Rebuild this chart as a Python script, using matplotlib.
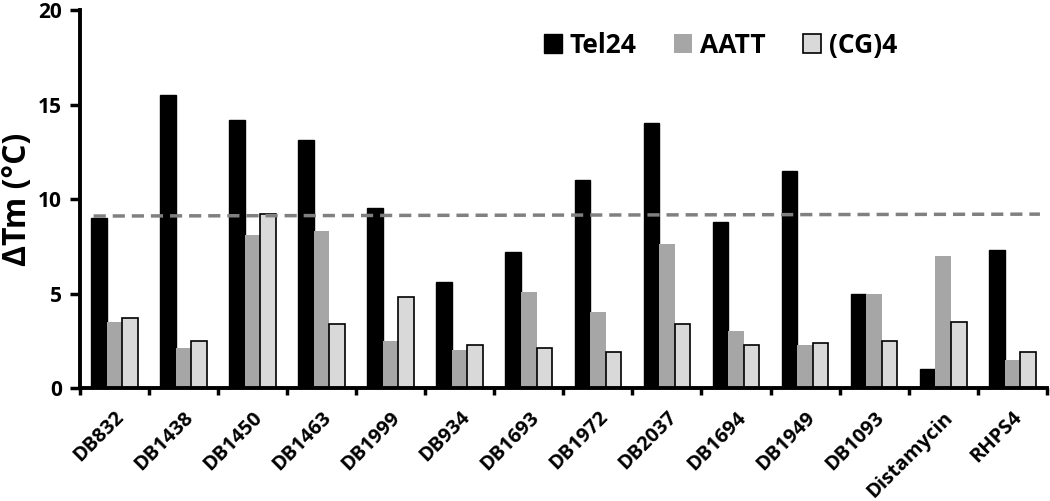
import numpy as np
import matplotlib
matplotlib.use('Agg')
import matplotlib.pyplot as plt
from matplotlib.patches import Patch
from matplotlib.transforms import ScaledTranslation

plt.rcParams['font.family'] = ['Open Sans', 'DejaVu Sans']
plt.rcParams['font.weight'] = 'bold'

compounds = ['DB832', 'DB1438', 'DB1450', 'DB1463', 'DB1999', 'DB934', 'DB1693',
             'DB1972', 'DB2037', 'DB1694', 'DB1949', 'DB1093', 'Distamycin', 'RHPS4']
tel24 = [9.0, 15.5, 14.2, 13.1, 9.5, 5.6, 7.2, 11.0, 14.0, 8.8, 11.5, 5.0, 1.0, 7.3]
aatt = [3.5, 2.1, 8.1, 8.3, 2.5, 2.0, 5.1, 4.0, 7.6, 3.0, 2.3, 5.0, 7.0, 1.5]
cg4 = [3.7, 2.5, 9.2, 3.4, 4.8, 2.3, 2.1, 1.9, 3.4, 2.3, 2.4, 2.5, 3.5, 1.9]
threshold = [9.1, 9.2]  # dashed reference line, left and right ends
y_ticks = [0, 5, 10, 15, 20]

fig = plt.figure(figsize=(10.5, 5.01), dpi=100)
ax = fig.add_axes([0.076, 0.2255, 0.921, 0.7545])

x = np.arange(len(compounds))
w = 0.225
ax.bar(x - w, tel24, w, color='black', edgecolor='black', linewidth=1)
ax.bar(x, aatt, w, color='#a6a6a6', linewidth=0)
ax.bar(x + w, cg4, w, color='#d9d9d9', edgecolor='black', linewidth=1.2)

ax.plot([-0.3, 13.4], threshold, color='#808080', linestyle=(0, (3.5, 2)), linewidth=2.5)

ax.set_xlim(-0.5, 13.5)
ax.set_ylim(0, 20)
ax.set_yticks(y_ticks)
ax.set_yticklabels([str(v) for v in y_ticks], fontsize=15, fontweight='bold')
ax.set_ylabel('ΔTm (°C)', fontsize=23, fontweight='bold', labelpad=3)

ax.set_xticks(x)
ax.set_xticklabels(compounds, rotation=45, ha='right', rotation_mode='anchor',
                   fontsize=14.5, fontweight='bold')
# shift the rotated labels a bit to the right, as in the original
offset = ScaledTranslation(5 / 100, 0, fig.dpi_scale_trans)
for lbl in ax.get_xticklabels():
    lbl.set_transform(lbl.get_transform() + offset)
ax.set_xticks(np.arange(-0.5, 14, 1), minor=True)
ax.tick_params(axis='x', which='major', length=0, pad=14)
ax.tick_params(axis='x', which='minor', length=5, width=2.5, direction='out')
ax.tick_params(axis='y', length=7, width=2.5, direction='out', pad=6)

for s in ['top', 'right']:
    ax.spines[s].set_visible(False)
for s in ['left', 'bottom']:
    ax.spines[s].set_linewidth(2.8)

handles = [Patch(facecolor='black', edgecolor='black'),
           Patch(facecolor='#a6a6a6', linewidth=0),
           Patch(facecolor='#d9d9d9', edgecolor='black', linewidth=1.2)]
ax.legend(handles, ['Tel24', 'AATT', '(CG)4'], loc='center left',
          bbox_to_anchor=(0.455, 0.907), ncol=3, frameon=False,
          handlelength=0.7, handleheight=0.7, handletextpad=0.3,
          columnspacing=1.4, prop={'size': 19, 'weight': 'bold'})

fig.savefig('out.png', dpi=100)
